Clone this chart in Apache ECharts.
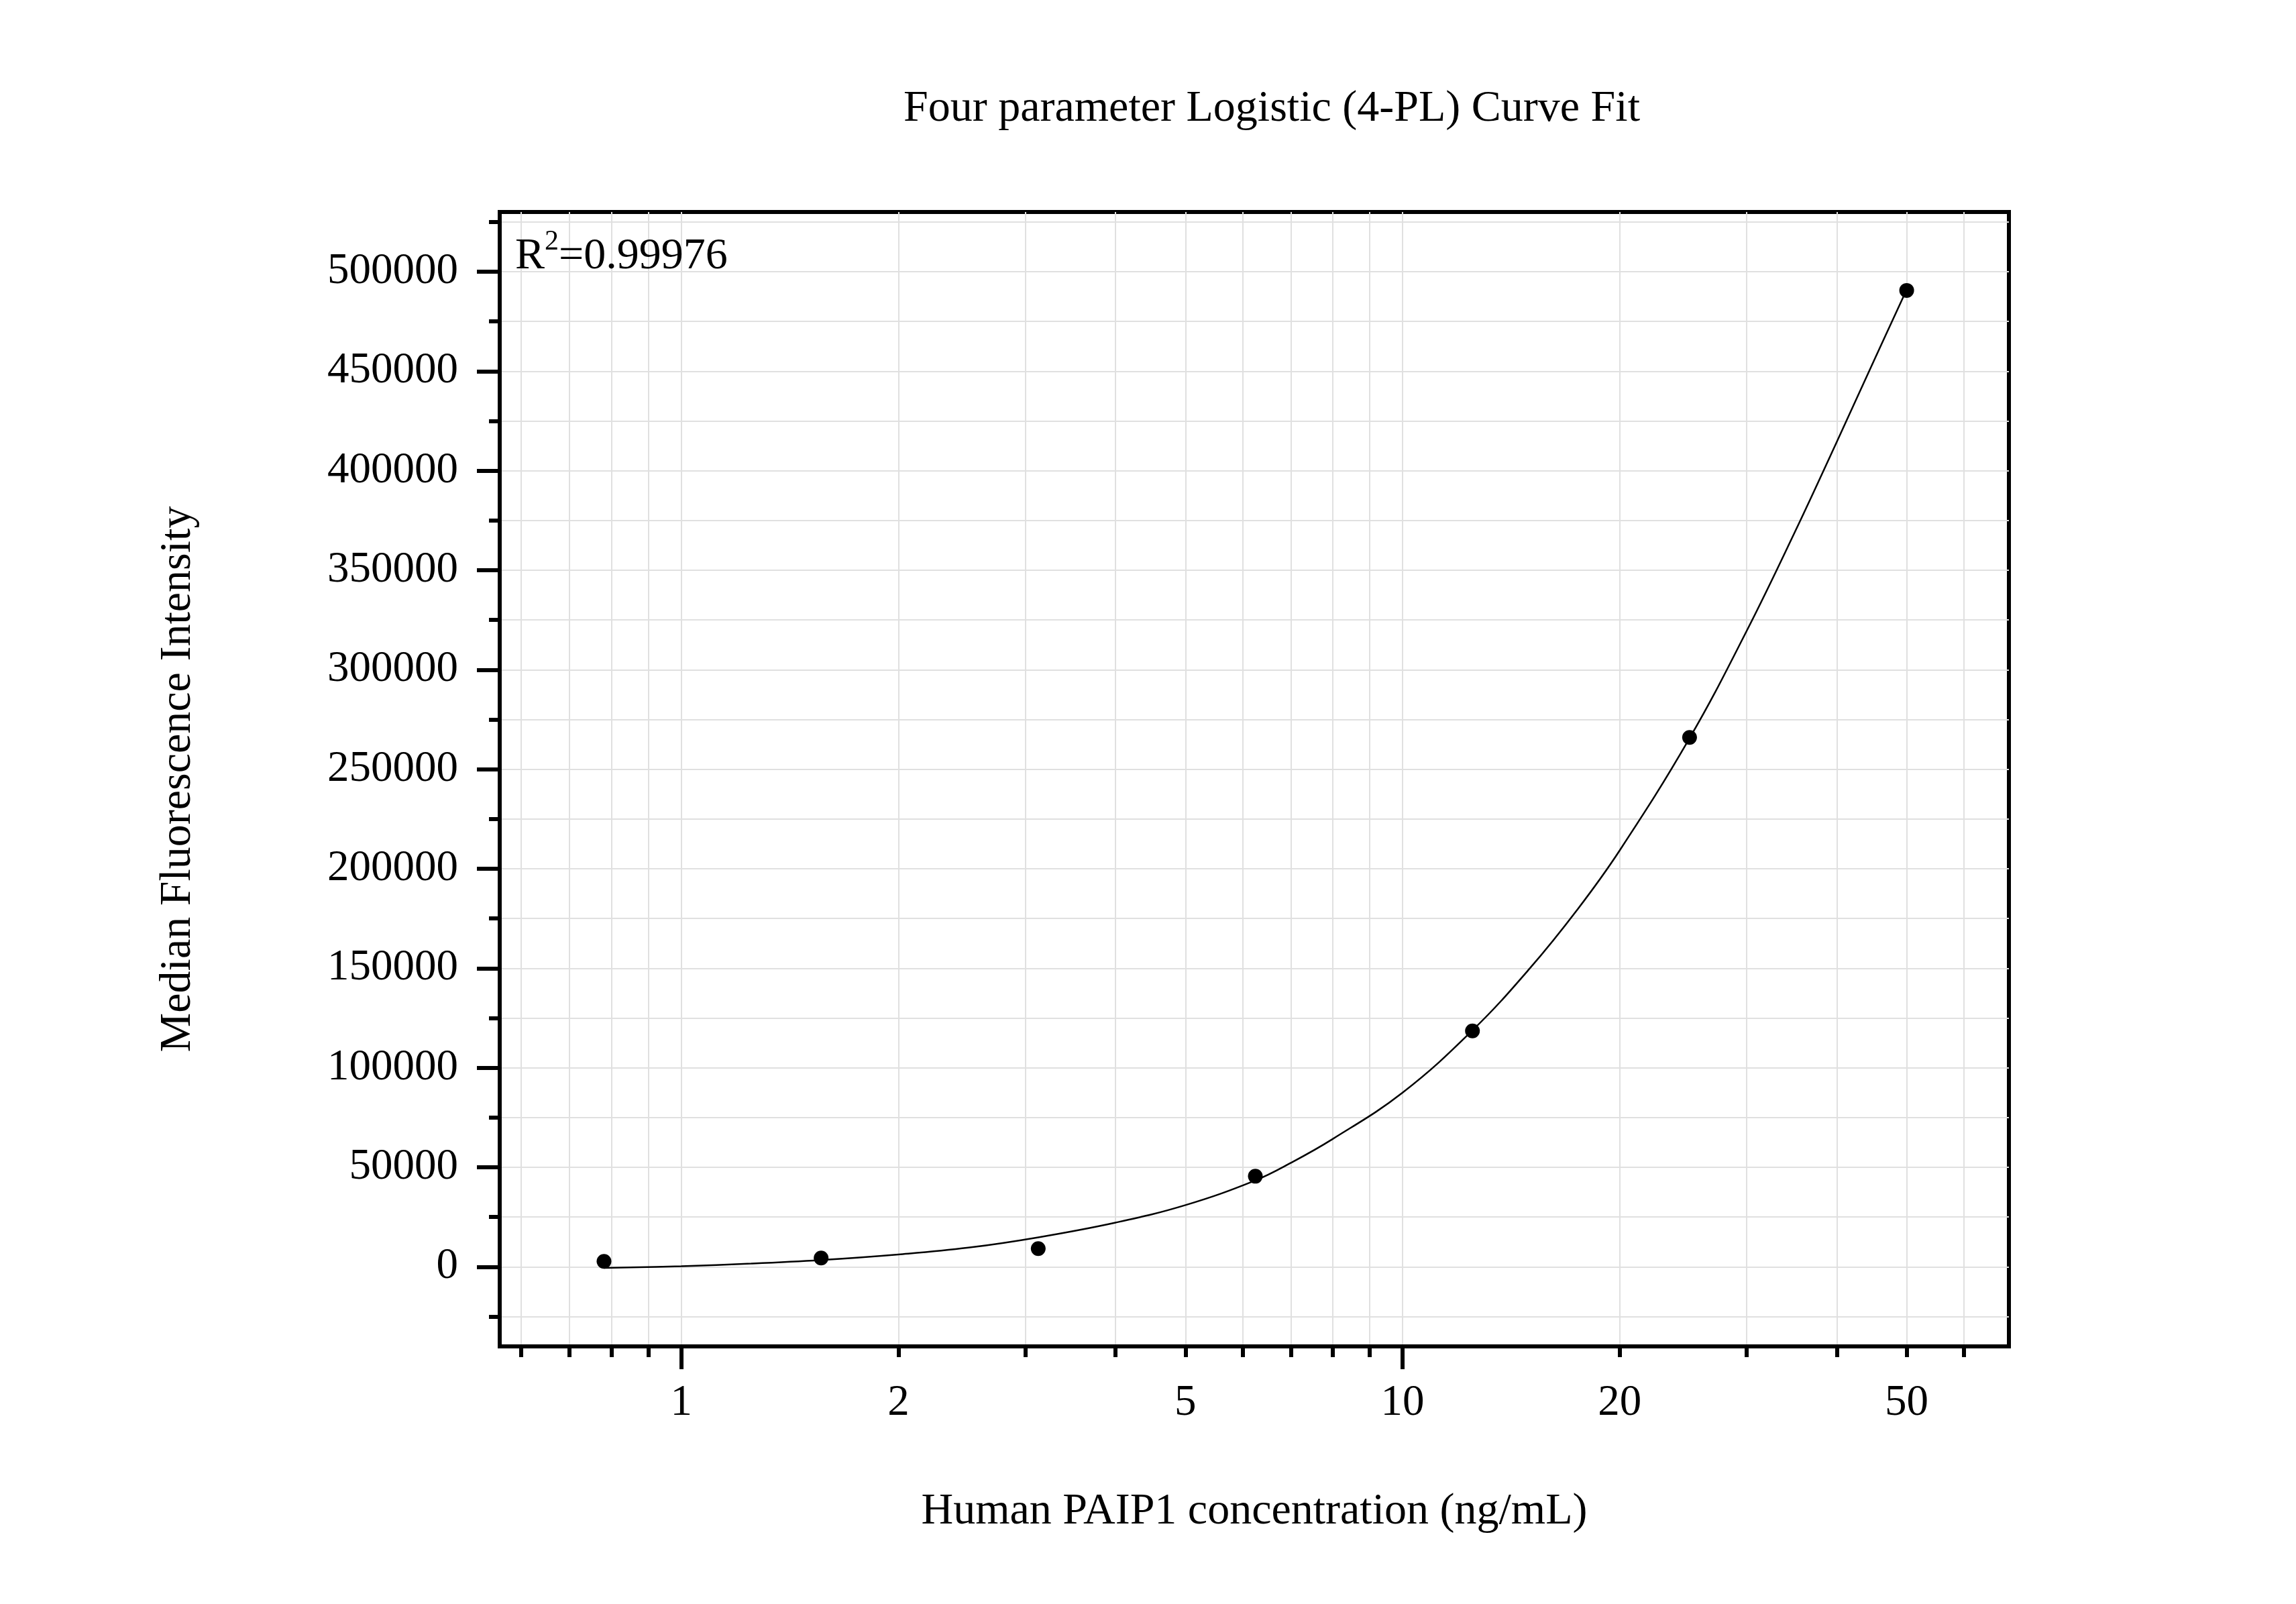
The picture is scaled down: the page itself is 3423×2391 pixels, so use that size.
<!DOCTYPE html>
<html>
<head>
<meta charset="utf-8">
<script src="https://cdn.jsdelivr.net/npm/echarts@6/dist/echarts.min.js"></script>
<style>
html,body{margin:0;padding:0;background:#fff;}
#chart{width:3423px;height:2391px;}
</style>
</head>
<body>
<div id="chart"></div>
<script>
// ---- data ----
const concentrations = [0.78125, 1.5625, 3.125, 6.25, 12.5, 25, 50];
const mfi = [2700, 4400, 9100, 45500, 118500, 266000, 490600];

// fitted 4-PL curve
const fitX = [0.78125, 1, 1.25, 1.5625, 2, 2.5, 3.125, 4, 5, 6.25, 7, 8, 10, 12.5, 15, 17.5, 20, 25, 30, 35, 40, 45, 50];
const fitY = [-600, 300, 1600, 3400, 6200, 9600, 14800, 22200, 31000, 43400, 52200, 64200, 87500, 118800, 149800, 179800, 209200, 265600, 319500, 369300, 414500, 455000, 491000];

// axis ticks
const xLabelTicks = [1, 2, 5, 10, 20, 50];
const xMajorTicks = [1, 10];
const xMinorTicks = [0.6, 0.7, 0.8, 0.9, 1, 2, 3, 4, 5, 6, 7, 8, 9, 10, 20, 30, 40, 50, 60];
const yLabelTicks = [0, 50000, 100000, 150000, 200000, 250000, 300000, 350000, 400000, 450000, 500000];
const yMinorTicks = [-25000, 0, 25000, 50000, 75000, 100000, 125000, 150000, 175000, 200000, 225000, 250000, 275000, 300000, 325000, 350000, 375000, 400000, 425000, 450000, 475000, 500000, 525000];
const xRange = [0.56, 69.3];
const yRange = [-40000, 530000];

const title = 'Four parameter Logistic (4-PL) Curve Fit';
const xName = 'Human PAIP1 concentration (ng/mL)';
const yName = 'Median Fluorescence Intensity';
const r2Text = '0.99976';

const FONT = '"Liberation Serif", "Times New Roman", serif';
const lg = v => Math.log10(v);

const chart = echarts.init(document.getElementById('chart'), null, {renderer: 'canvas'});

const baseX = {
  type: 'value', min: lg(xRange[0]), max: lg(xRange[1]), position: 'bottom'
};
const baseY = {
  type: 'value', min: yRange[0], max: yRange[1], position: 'left'
};

const option = {
  animation: false,
  backgroundColor: '#fff',
  grid: {
    left: 745, top: 316, right: 428, bottom: 384,
    show: true, borderColor: '#000', borderWidth: 6, backgroundColor: 'transparent'
  },
  xAxis: [
    Object.assign({}, baseX, {
      name: xName, nameLocation: 'middle', nameGap: 214,
      nameTextStyle: {fontFamily: FONT, fontSize: 66, color: '#000'},
      axisLine: {show: true, onZero: false, lineStyle: {color: '#000', width: 6}},
      axisTick: {show: true, customValues: xMajorTicks.map(lg), length: 34, lineStyle: {color: '#000', width: 6}},
      axisLabel: {show: true, customValues: xLabelTicks.map(lg), margin: 52,
        fontFamily: FONT, fontSize: 65, color: '#000',
        formatter: v => String(Math.round(Math.pow(10, v)))},
      splitLine: {show: false}
    }),
    Object.assign({}, baseX, {
      axisLine: {show: false, onZero: false},
      axisTick: {show: true, customValues: xMinorTicks.map(lg), length: 16, lineStyle: {color: '#000', width: 6}},
      axisLabel: {show: false},
      splitLine: {show: true, lineStyle: {color: '#e0e0e0', width: 2}}
    })
  ],
  yAxis: [
    Object.assign({}, baseY, {
      name: yName, nameLocation: 'middle', nameGap: 446, nameRotate: 90,
      nameTextStyle: {fontFamily: FONT, fontSize: 66, color: '#000'},
      axisLine: {show: true, onZero: false, lineStyle: {color: '#000', width: 6}},
      axisTick: {show: true, customValues: yLabelTicks, length: 34, lineStyle: {color: '#000', width: 6}},
      axisLabel: {show: true, customValues: yLabelTicks, margin: 62,
        fontFamily: FONT, fontSize: 65, color: '#000',
        formatter: v => String(v)},
      splitLine: {show: false}
    }),
    Object.assign({}, baseY, {
      axisLine: {show: false, onZero: false},
      axisTick: {show: true, customValues: yMinorTicks, length: 16, lineStyle: {color: '#000', width: 6}},
      axisLabel: {show: false},
      splitLine: {show: true, lineStyle: {color: '#e0e0e0', width: 2}}
    })
  ],
  graphic: [
    {
      type: 'text', x: 1896, y: 163, z: 10,
      style: {text: title, font: '66px ' + FONT, fill: '#000', textAlign: 'center', textVerticalAlign: 'middle'}
    },
    {
      type: 'text', x: 768, y: 340, z: 10,
      style: {
        text: '{a|R}{s|2}{a|=' + r2Text + '}',
        textAlign: 'left', textVerticalAlign: 'top',
        rich: {
          a: {fontFamily: FONT, fontSize: 66, lineHeight: 86, verticalAlign: 'middle', fill: '#000'},
          s: {fontFamily: FONT, fontSize: 42, lineHeight: 42, verticalAlign: 'top', fill: '#000'}
        }
      }
    }
  ],
  series: [
    {
      type: 'line', xAxisIndex: 0, yAxisIndex: 0,
      data: fitX.map((x, i) => [lg(x), fitY[i]]),
      smooth: 0.4, showSymbol: false, symbol: 'none',
      lineStyle: {color: '#000', width: 2.5}, z: 3
    },
    {
      type: 'scatter', xAxisIndex: 0, yAxisIndex: 0,
      data: concentrations.map((x, i) => [lg(x), mfi[i]]),
      symbol: 'circle', symbolSize: 22,
      itemStyle: {color: '#000', opacity: 1}, z: 4
    }
  ]
};
chart.setOption(option);
</script>
</body>
</html>
